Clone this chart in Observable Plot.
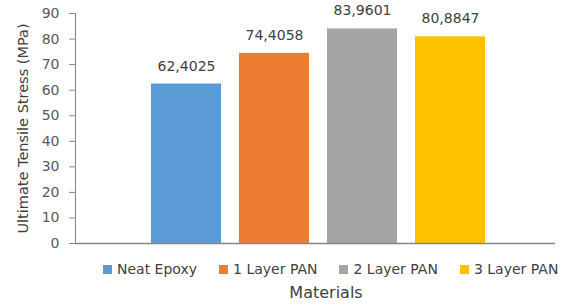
<!DOCTYPE html>
<html><head><meta charset="utf-8">
<script src="https://cdn.jsdelivr.net/npm/d3@7"></script>
<script src="https://cdn.jsdelivr.net/npm/@observablehq/plot@0.6"></script>
<style>
body{margin:0;background:#fff;font-family:"DejaVu Sans",sans-serif;}
#legend{display:flex;margin-left:103px;height:26px;align-items:center;font-size:14px;color:#404040;white-space:nowrap;}
#legend .item{display:flex;align-items:center;margin-right:22px;}
#legend .sw{width:9px;height:9px;margin-right:5px;}
#xtitle{text-align:center;font-size:16px;line-height:22px;color:#404040;margin-left:86px;width:480px;}
</style></head>
<body>
<div id="chart"></div>
<div id="legend"></div>
<div id="xtitle">Materials</div>
<script>
const materials = ["Neat Epoxy","1 Layer PAN","2 Layer PAN","3 Layer PAN"];
const stress = [62.4025, 74.4058, 83.9601, 80.8847];
const labels = ["62,4025","74,4058","83,9601","80,8847"];
const colors = ["#5B9BD5","#ED7D31","#A5A5A5","#FFC000"];
const yTicks = [0,10,20,30,40,50,60,70,80,90];

const data = materials.map((m,i)=>({material:m, value:stress[i], label:labels[i]}));

const chart = Plot.plot({
  width: 571, height: 256,
  marginLeft: 75, marginRight: 16, marginTop: 13, marginBottom: 13,
  style: {fontFamily: "DejaVu Sans", fontSize: "14px", color: "#595959"},
  x: {domain: materials, range: [150, 486], paddingInner: 0.21, paddingOuter: 0, axis: null},
  y: {domain: [0, 90], ticks: yTicks},
  color: {domain: materials, range: colors},
  marks: [
    Plot.barY(data, {x: "material", y: "value", fill: "material"}),
    Plot.text(data, {x: "material", y: "value", text: "label", dy: -18, fontSize: 14, fill: "#404040"}),
    Plot.axisY({ticks: yTicks, tickSize: 6, tickPadding: 10, stroke: "#868686", fill: "#595959",
      label: "Ultimate Tensile Stress (MPa)", labelAnchor: "center", labelArrow: "none", labelOffset: 58, fontSize: 14}),
    Plot.frame({anchor: "left", stroke: "#868686"}),
    Plot.ruleY([0], {stroke: "#868686", strokeWidth: 1.5})
  ]
});
document.getElementById("chart").append(chart);
chart.querySelectorAll("text").forEach(t=>{
  if (t.textContent.startsWith("Ultimate")) { t.style.fontSize = "14.5px"; t.style.fill = "#404040"; }
});

const lg = document.getElementById("legend");
materials.forEach((m,i)=>{
  const it = document.createElement("div"); it.className="item";
  const sw = document.createElement("div"); sw.className="sw"; sw.style.background=colors[i];
  const tx = document.createElement("span"); tx.textContent=m;
  it.append(sw, tx); lg.append(it);
});
</script>
</body></html>
